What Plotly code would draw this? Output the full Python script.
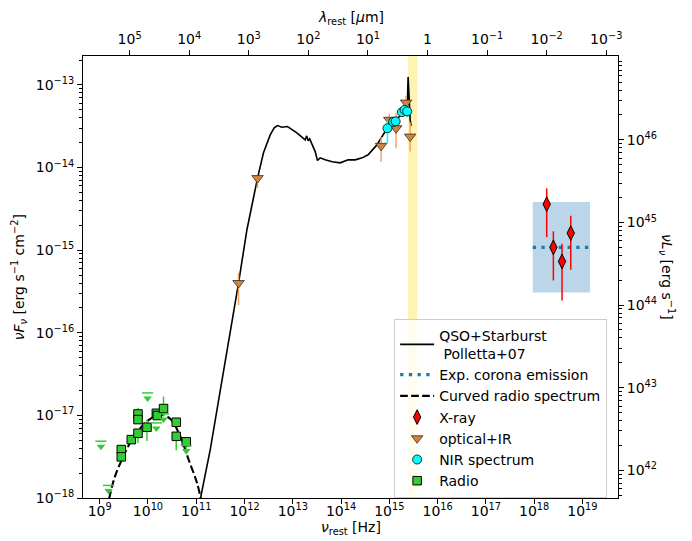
import plotly.graph_objects as go

# ---------------- data ----------------
# QSO+Starburst template (Polletta+07): log10(nu_rest/Hz), log10(nuFnu)
tmpl_log_nu = [11.041, 11.290, 11.518, 11.752, 11.876, 12.050, 12.269, 12.393, 12.532, 12.615,
               12.683, 12.774, 12.890, 13.085, 13.257, 13.288, 13.319, 13.350, 13.402, 13.464,
               13.511, 13.567, 13.671, 13.816, 13.981, 14.147, 14.292, 14.437, 14.561, 14.741,
               14.913, 15.085, 15.292, 15.369, 15.389, 15.410, 15.431, 15.451]
tmpl_log_flux = [-18.139, -17.414, -16.628, -15.842, -15.398, -14.753, -14.128, -13.822, -13.605, -13.520,
                 -13.492, -13.512, -13.504, -13.580, -13.665, -13.617, -13.677, -13.653, -13.726, -13.807,
                 -13.915, -13.883, -13.907, -13.931, -13.943, -13.907, -13.907, -13.883, -13.846, -13.726,
                 -13.565, -13.444, -13.342, -13.314, -12.903, -13.302, -13.423, -13.496]

# Curved radio spectrum: log10 values
radio_curve_log_nu = [9.147, 9.302, 9.462, 9.669, 9.876, 10.048, 10.255, 10.462, 10.669, 10.841, 11.014, 11.124]
radio_curve_log_flux = [-18.139, -17.764, -17.534, -17.293, -17.132, -17.042, -16.990, -17.042, -17.253, -17.534, -17.816, -18.079]

# X-ray
xray_nu = [1.82e18, 2.50e18, 3.78e18, 5.73e18]
xray_flux = [3.60e-15, 1.08e-15, 7.30e-16, 1.61e-15]
xray_err_hi = [2.0e-15, 6.1e-16, 4.65e-16, 1.0e-15]
xray_err_lo = [2.16e-15, 6.5e-16, 4.84e-16, 1.03e-15]

# Expected corona emission (line + range)
corona_nu = [9.35e17, 1.44e19]
corona_flux = [1.08e-15, 1.08e-15]
corona_flux_lo = 3.08e-16
corona_flux_hi = 3.82e-15

# optical + IR photometry
opt_nu = [7.52e11, 1.86e12, 6.76e14, 1.00e15, 1.38e15, 2.23e15, 2.70e15]
opt_flux = [4.00e-16, 7.45e-15, 1.83e-14, 3.78e-14, 2.99e-14, 6.11e-14, 2.37e-14]
opt_err_hi = [1.28e-16, 0.65e-15, 5.2e-15, 6.8e-15, 1.55e-14, 1.3e-14, 1.13e-14]
opt_err_lo = [1.83e-16, 1.8e-15, 6.6e-15, 1.07e-14, 1.28e-14, 1.08e-14, 8.1e-15]

# NIR spectrum
nir_nu = [9.14e14, 1.20e15, 1.35e15, 1.82e15, 2.07e15, 2.34e15]
nir_flux = [2.99e-14, 3.57e-14, 3.62e-14, 4.68e-14, 4.99e-14, 4.79e-14]
nir_err_hi = [7.4e-15, 5.3e-15, 5.4e-15, 5.5e-15, 5.9e-15, 8.7e-15]
nir_err_lo = [1.02e-14, 4.6e-15, 4.7e-15, 4.9e-15, 5.2e-15, 7.4e-15]

# Radio detections
radio_nu = [2.80e9, 2.80e9, 4.51e9, 6.21e9, 6.21e9, 6.21e9, 9.53e9, 1.49e10, 1.56e10, 2.10e10, 3.85e10, 3.85e10, 6.21e10]
radio_flux = [3.86e-18, 3.15e-18, 5.09e-18, 6.08e-18, 1.04e-17, 8.89e-18, 7.18e-18, 1.06e-17, 9.95e-18, 1.21e-17, 8.26e-18, 5.58e-18, 4.79e-18]
radio_err_hi = [0.34e-18, 0.27e-18, 0.29e-18, 0.53e-18, 1.9e-18, 0.77e-18, 1.7e-18, 1.2e-18, 0.86e-18, 4.8e-18, 0.7e-18, 0.48e-18, 0.41e-18]
radio_err_lo = [0.34e-18, 0.27e-18, 0.29e-18, 1.48e-18, 1.1e-18, 0.77e-18, 2.3e-18, 1.1e-18, 0.86e-18, 2.4e-18, 0.7e-18, 1.8e-18, 1.06e-18]

# Radio upper limits
radio_ul_nu = [1.06e9, 1.53e9, 9.82e9, 1.49e10, 2.10e10, 6.21e10]
radio_ul_flux = [4.87e-18, 1.42e-18, 1.87e-17, 8.11e-18, 1.04e-17, 4.32e-18]

# highlighted band (rest frequency)
band_nu = [2.45e15, 3.77e15]

# tick exponents
nu_tick_exp = [9, 10, 11, 12, 13, 14, 15, 16, 17, 18, 19]
lam_tick_exp = [5, 4, 3, 2, 1, 0, -1, -2, -3]
flux_tick_exp = [-18, -17, -16, -15, -14, -13]
lum_tick_exp = [42, 43, 44, 45, 46]

# ---------------- layout constants ----------------
W, H = 692, 541
L, R, T, B = 82.7, 74.0, 56.0, 42.5
PW = W - L - R
PH = H - T - B
X_RANGE = [8.654, 19.737]
Y_RANGE = [-18.0, -12.65]
LAM_RANGE = [5.783, -3.197]
LUM_OFFSET = 59.665
UL_ARROW_FACTOR = 0.86
FONT = "DejaVu Sans"
FS = 14


def sup(e):
    if e == 0:
        return "1"
    s = str(e).replace("-", "\u2212")
    return "10<sup>" + s + "</sup>"


def px_x(px):
    return (px - L) / PW


def px_y(py):
    return (H - B - py) / PH


def minor_vals(lo, hi):
    out = []
    for k in range(lo, hi + 1):
        for m in range(2, 10):
            out.append(m * 10.0 ** k)
    return out


fig = go.Figure()

# yellow band (full height)
y_full = [10 ** (Y_RANGE[0] - 1), 10 ** (Y_RANGE[1] + 1)]
fig.add_trace(go.Scatter(
    x=[band_nu[0], band_nu[1], band_nu[1], band_nu[0], band_nu[0]],
    y=[y_full[0], y_full[0], y_full[1], y_full[1], y_full[0]],
    fill="toself", fillcolor="rgba(255,215,0,0.3)", line=dict(width=0),
    mode="lines", showlegend=False, hoverinfo="skip"))

# corona range box
fig.add_trace(go.Scatter(
    x=[corona_nu[0], corona_nu[1], corona_nu[1], corona_nu[0], corona_nu[0]],
    y=[corona_flux_lo, corona_flux_lo, corona_flux_hi, corona_flux_hi, corona_flux_lo],
    fill="toself", fillcolor="rgba(31,119,180,0.3)", line=dict(width=0),
    mode="lines", showlegend=False, hoverinfo="skip"))

# template
fig.add_trace(go.Scatter(
    x=[10 ** v for v in tmpl_log_nu], y=[10 ** v for v in tmpl_log_flux],
    mode="lines", line=dict(color="black", width=1.6),
    name="QSO+Starburst<br> Polletta+07"))

# corona line
fig.add_trace(go.Scatter(
    x=corona_nu, y=corona_flux, mode="lines",
    line=dict(color="#1f77b4", width=3.3, dash="3.3px,5.4px"),
    name="Exp. corona emission"))

# curved radio spectrum
fig.add_trace(go.Scatter(
    x=[10 ** v for v in radio_curve_log_nu], y=[10 ** v for v in radio_curve_log_flux],
    mode="lines", line=dict(color="black", width=2.1, dash="7.7px,3.3px", shape="spline"),
    name="Curved radio spectrum"))

# X-ray
fig.add_trace(go.Scatter(
    x=xray_nu, y=xray_flux, mode="markers",
    marker=dict(symbol="diamond-tall", size=10.5, color="red", line=dict(color="black", width=1)),
    error_y=dict(type="data", array=xray_err_hi, arrayminus=xray_err_lo, color="red", thickness=1.5, width=0),
    name="X-ray"))

# optical + IR
fig.add_trace(go.Scatter(
    x=opt_nu, y=opt_flux, mode="markers",
    marker=dict(symbol="triangle-down", size=10, color="#cd853f", line=dict(color="#3a2a1a", width=0.8)),
    error_y=dict(type="data", array=opt_err_hi, arrayminus=opt_err_lo, color="#f4a460", thickness=1.5, width=0),
    name="optical+IR"))

# NIR spectrum
fig.add_trace(go.Scatter(
    x=nir_nu, y=nir_flux, mode="markers",
    marker=dict(symbol="circle", size=9, color="cyan", line=dict(color="black", width=0.8)),
    error_y=dict(type="data", array=nir_err_hi, arrayminus=nir_err_lo, color="cyan", thickness=1.5, width=0),
    name="NIR spectrum"))

# Radio
fig.add_trace(go.Scatter(
    x=radio_nu, y=radio_flux, mode="markers",
    marker=dict(symbol="square", size=8.5, color="#32cd32", line=dict(color="black", width=1)),
    error_y=dict(type="data", array=radio_err_hi, arrayminus=radio_err_lo, color="#32cd32", thickness=1.5, width=0),
    name="Radio"))

# Radio upper limits: cap + arrow head
fig.add_trace(go.Scatter(
    x=radio_ul_nu, y=radio_ul_flux, mode="markers",
    marker=dict(symbol="line-ew", size=8, line=dict(color="#32cd32", width=1.5)),
    showlegend=False, hoverinfo="skip"))
fig.add_trace(go.Scatter(
    x=radio_ul_nu, y=[f * UL_ARROW_FACTOR for f in radio_ul_flux], mode="markers",
    marker=dict(symbol="triangle-down", size=7.5, color="#32cd32", line=dict(width=0)),
    showlegend=False, hoverinfo="skip"))

# dummy traces to activate secondary axes
lam_vals = [10.0 ** e for e in lam_tick_exp]
lum_vals = [10.0 ** e for e in lum_tick_exp]
fig.add_trace(go.Scatter(x=lam_vals, y=[None] * len(lam_vals), xaxis="x2", yaxis="y",
                         mode="markers", showlegend=False, hoverinfo="skip"))
fig.add_trace(go.Scatter(x=[None] * len(lum_vals), y=lum_vals, xaxis="x", yaxis="y2",
                         mode="markers", showlegend=False, hoverinfo="skip"))

tickfont = dict(family=FONT, size=FS, color="black")
common = dict(type="log", showgrid=False, zeroline=False, showline=True, linecolor="black",
              linewidth=1.1, ticks="outside", ticklen=4.9, tickwidth=1.1, tickcolor="black",
              tickfont=tickfont, tickmode="array")

fig.update_layout(
    width=W, height=H,
    margin=dict(l=L, r=R, t=T, b=B, pad=0),
    paper_bgcolor="white", plot_bgcolor="white",
    font=dict(family=FONT, size=FS, color="black"),
    showlegend=True,
    legend=dict(x=px_x(394), y=px_y(319), xanchor="left", yanchor="top",
                bgcolor="rgba(255,255,255,0.8)", bordercolor="#cccccc", borderwidth=1,
                font=dict(family=FONT, size=FS, color="black"), itemwidth=34),
    xaxis=dict(range=X_RANGE,
               tickvals=[10.0 ** e for e in nu_tick_exp], ticktext=[sup(e) for e in nu_tick_exp],
               ticklabelstandoff=-5, **common),
    xaxis2=dict(range=LAM_RANGE, overlaying="x", side="top", anchor="y",
                tickvals=lam_vals, ticktext=[sup(e) for e in lam_tick_exp], **common),
    yaxis=dict(range=Y_RANGE,
               tickvals=[10.0 ** e for e in flux_tick_exp], ticktext=[sup(e) for e in flux_tick_exp],
               minor=dict(tickmode="array", tickvals=minor_vals(-19, -13), ticks="outside",
                          ticklen=2.8, tickwidth=0.8, tickcolor="black"),
               **common),
    yaxis2=dict(range=[Y_RANGE[0] + LUM_OFFSET, Y_RANGE[1] + LUM_OFFSET], overlaying="y", side="right",
                anchor="x", tickvals=lum_vals, ticktext=[sup(e) for e in lum_tick_exp],
                minor=dict(tickmode="array", tickvals=minor_vals(41, 47), ticks="outside",
                           ticklen=2.8, tickwidth=0.8, tickcolor="black"),
                **common),
    annotations=[
        dict(text="<i>ν</i><sub>rest</sub> [Hz]", xref="paper", yref="paper",
             x=0.5, y=px_y(529), xanchor="center", yanchor="middle", showarrow=False,
             font=dict(family=FONT, size=FS, color="black")),
        dict(text="<i>λ</i><sub>rest</sub> [<i>μ</i>m]", xref="paper", yref="paper",
             x=0.5, y=px_y(18), xanchor="center", yanchor="middle", showarrow=False,
             font=dict(family=FONT, size=FS, color="black")),
        dict(text="<i>νF</i><sub><i>ν</i></sub> [erg s<sup>\u22121</sup> cm<sup>\u22122</sup>]",
             xref="paper", yref="paper", x=px_x(19), y=0.5, xanchor="center", yanchor="middle",
             textangle=-90, showarrow=False, font=dict(family=FONT, size=FS, color="black")),
        dict(text="<i>νL</i><sub><i>ν</i></sub> [erg s<sup>\u22121</sup>]",
             xref="paper", yref="paper", x=px_x(667), y=0.5, xanchor="center", yanchor="middle",
             textangle=90, showarrow=False, font=dict(family=FONT, size=FS, color="black")),
    ],
)

fig.write_html("out.html")
